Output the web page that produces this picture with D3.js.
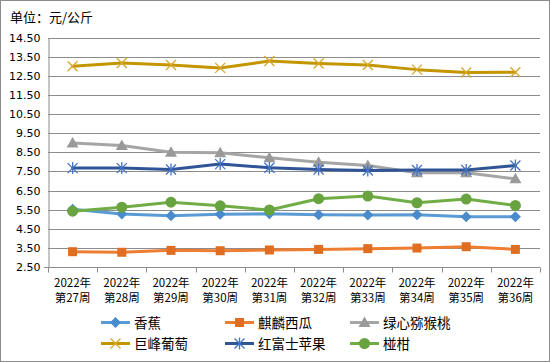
<!DOCTYPE html>
<html>
<head>
<meta charset="utf-8">
<script src="https://cdn.jsdelivr.net/npm/d3@7"></script>
<style>
  body { margin: 0; background: #fff; }
  svg { display: block; font-family: "Noto Sans CJK SC", "DejaVu Sans", sans-serif; }
</style>
</head>
<body>
<div id="chart"></div>
<script>
// weeks on the x axis
var weeks = ["第27周", "第28周", "第29周", "第30周", "第31周", "第32周", "第33周", "第34周", "第35周", "第36周"];
var yearLabel = "2022年";
var yTicks = [2.5, 3.5, 4.5, 5.5, 6.5, 7.5, 8.5, 9.5, 10.5, 11.5, 12.5, 13.5, 14.5];

// prices (元/公斤)
var banana = [5.52, 5.27, 5.18, 5.26, 5.28, 5.23, 5.22, 5.23, 5.13, 5.13];
var watermelon = [3.30, 3.27, 3.37, 3.35, 3.39, 3.42, 3.46, 3.49, 3.56, 3.42];
var kiwi = [8.99, 8.85, 8.50, 8.47, 8.21, 7.98, 7.81, 7.43, 7.43, 7.11];
var grape = [13.00, 13.17, 13.06, 12.91, 13.27, 13.14, 13.06, 12.82, 12.67, 12.68];
var apple = [7.67, 7.67, 7.60, 7.88, 7.69, 7.60, 7.55, 7.57, 7.57, 7.81];
var orange = [5.42, 5.63, 5.89, 5.70, 5.48, 6.07, 6.21, 5.86, 6.05, 5.72];

var series = [
  {name: "香蕉", values: banana, color: "#5b9bd5", mcolor: "#4a8ccb", marker: "diamond"},
  {name: "麒麟西瓜", values: watermelon, color: "#ed7d31", mcolor: "#e06e22", marker: "square"},
  {name: "绿心猕猴桃", values: kiwi, color: "#a5a5a5", mcolor: "#9a9a9a", marker: "triangle"},
  {name: "巨峰葡萄", values: grape, color: "#c39600", mcolor: "#d9a62a", marker: "x"},
  {name: "红富士苹果", values: apple, color: "#2f5597", mcolor: "#4472c4", marker: "star"},
  {name: "椪柑", values: orange, color: "#70ad47", mcolor: "#68a33f", marker: "circle"}
];

var width = 550, height = 362;
var m = {left: 48, right: 10, top: 37.5, bottom: 95};

var svg = d3.select("#chart").append("svg")
  .attr("width", width).attr("height", height);

// chart frame
svg.append("rect").attr("x", 0.5).attr("y", 0.5)
  .attr("width", width - 1).attr("height", height - 1)
  .attr("fill", "#fff").attr("stroke", "#8c8c8c");

svg.append("text").attr("x", 10).attr("y", 22)
  .attr("font-size", 13).attr("fill", "#000").text("单位：元/公斤");

var x = d3.scaleBand().domain(weeks).range([m.left, width - m.right]);
var y = d3.scaleLinear().domain([2.5, 14.5]).range([height - m.bottom, m.top]);

// grid
svg.append("g").selectAll("line").data(yTicks).join("line")
  .attr("x1", m.left).attr("x2", width - m.right)
  .attr("y1", function(d){ return Math.round(y(d)) + 0.5; })
  .attr("y2", function(d){ return Math.round(y(d)) + 0.5; })
  .attr("stroke", "#8c8c8c").attr("stroke-width", 1);

// y axis
var yAxis = svg.append("g").attr("transform", "translate(" + (m.left + 0.5) + ",0)")
  .call(d3.axisLeft(y).tickValues(yTicks).tickFormat(d3.format(".2f")).tickSize(0).tickPadding(8));
yAxis.select(".domain").attr("stroke", "#8c8c8c");
yAxis.selectAll("text").attr("font-size", 11).attr("fill", "#000")
  .attr("font-family", "'DejaVu Sans', sans-serif");

// x axis
var base = Math.round(y(2.5)) + 0.5;
svg.append("line").attr("x1", m.left - 4).attr("x2", width - m.right)
  .attr("y1", base).attr("y2", base).attr("stroke", "#8c8c8c");
var bounds = weeks.map(function(w){ return x(w); }).concat([x.range()[1]]);
svg.append("g").selectAll("line").data(bounds).join("line")
  .attr("x1", function(d){ return Math.round(d) + 0.5; })
  .attr("x2", function(d){ return Math.round(d) + 0.5; })
  .attr("y1", base).attr("y2", base + 5).attr("stroke", "#8c8c8c");

var xl = svg.append("g").selectAll("text").data(weeks).join("text")
  .attr("text-anchor", "middle").attr("font-size", 11.5).attr("fill", "#000")
  .attr("x", function(d){ return x(d) + x.bandwidth() / 2; });
xl.append("tspan").attr("y", 287).attr("x", function(d){ return x(d) + x.bandwidth() / 2; }).text(yearLabel);
xl.append("tspan").attr("y", 302).attr("x", function(d){ return x(d) + x.bandwidth() / 2; }).text(function(d){ return d; });

function cx(i){ return x(weeks[i]) + x.bandwidth() / 2; }

function drawMarker(g, type, color){
  if (type == "diamond") {
    g.append("path").attr("d", "M0,-5.5L5.5,0L0,5.5L-5.5,0Z").attr("fill", color);
  } else if (type == "square") {
    g.append("rect").attr("x", -4.5).attr("y", -4.5).attr("width", 9).attr("height", 9).attr("fill", color);
  } else if (type == "triangle") {
    g.append("path").attr("d", "M0,-6L6,4.5L-6,4.5Z").attr("fill", color);
  } else if (type == "circle") {
    g.append("circle").attr("r", 5.5).attr("fill", color);
  } else if (type == "x") {
    g.append("path").attr("d", "M-5,-5L5,5M-5,5L5,-5").attr("stroke", color).attr("stroke-width", 1.3).attr("fill", "none");
  } else if (type == "star") {
    g.append("path").attr("d", "M-5,-5L5,5M-5,5L5,-5M0,-6L0,6").attr("stroke", color).attr("stroke-width", 1.3).attr("fill", "none");
  }
}

var line = d3.line().x(function(d, i){ return cx(i); }).y(function(d){ return y(d); });

series.forEach(function(s){
  svg.append("path").datum(s.values).attr("d", line)
    .attr("fill", "none").attr("stroke", s.color).attr("stroke-width", 3)
    .attr("stroke-linejoin", "round").attr("stroke-linecap", "round");
  s.values.forEach(function(v, i){
    var g = svg.append("g").attr("transform", "translate(" + cx(i) + "," + y(v) + ")");
    drawMarker(g, s.marker, s.mcolor);
  });
});

// legend
var legX = [101, 225, 350], legY = [322.5, 343.5];
series.forEach(function(s, i){
  var lx = legX[i % 3], ly = legY[Math.floor(i / 3)];
  var g = svg.append("g").attr("transform", "translate(" + lx + "," + ly + ")");
  g.append("line").attr("x1", 0).attr("x2", 29).attr("y1", 0).attr("y2", 0)
    .attr("stroke", s.color).attr("stroke-width", 3);
  drawMarker(g.append("g").attr("transform", "translate(14.5,0)"), s.marker, s.mcolor);
  g.append("text").attr("x", 33).attr("y", 5).attr("font-size", 13.5).attr("fill", "#000").text(s.name);
});
</script>
</body>
</html>
